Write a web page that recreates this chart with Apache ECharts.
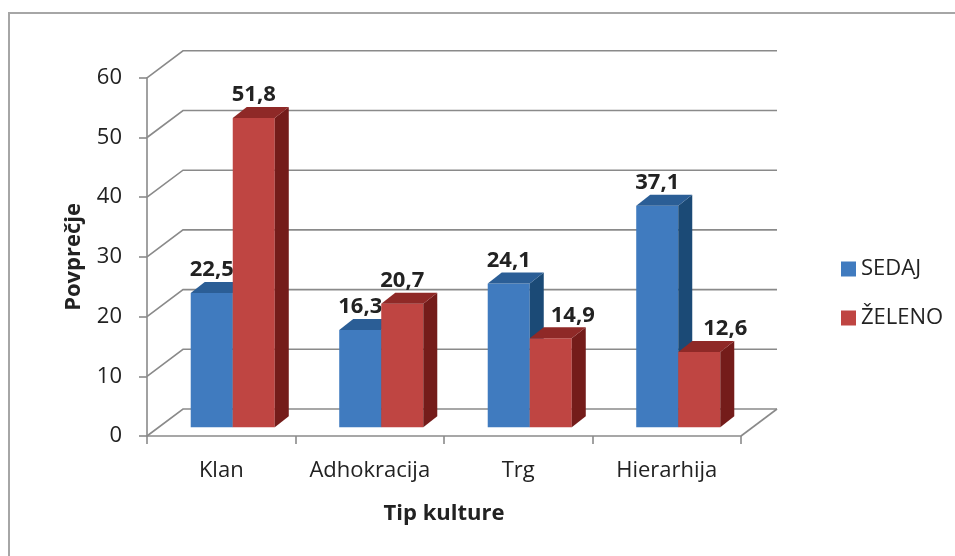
<!DOCTYPE html>
<html>
<head>
<meta charset="utf-8">
<script src="https://cdn.jsdelivr.net/npm/echarts@6/dist/echarts.min.js"></script>
<style>
html,body{margin:0;padding:0;background:#fff;}
#chart{width:955px;height:556px;}
</style>
</head>
<body>
<div id="chart"></div>
<script>
const categories = ['Klan', 'Adhokracija', 'Trg', 'Hierarhija'];
const sedaj = [22.5, 16.3, 24.1, 37.1];
const zeleno = [51.8, 20.7, 14.9, 12.6];
const yTicks = [0, 10, 20, 30, 40, 50, 60];
const seriesNames = ['SEDAJ', 'ŽELENO'];

// label placement tweaks (px, style only)
const labelShiftX = [[0, 0, 0, 0], [0, 0, 22, 26]];

const FONT = '"Open Sans", "Noto Sans", sans-serif';
const WALL_DX = 36, WALL_DY = 27;      // back wall depth offset
const FRONT_DX = 11.5, FRONT_DY = 8.7; // bar front face offset
const BAR_DX = 14, BAR_DY = 11;        // bar depth
const BAR_FRAC = 0.283;
const GRID_COLOR = '#8a8a8a';
const palettes = [
  { front: '#407BBF', side: '#1B4A76', top: '#2B5E96' },
  { front: '#BF4542', side: '#741C1A', top: '#8F2927' }
];

const chart = echarts.init(document.getElementById('chart'), null, { renderer: 'canvas' });

function gridRender(params, api) {
  const cs = params.coordSys;
  const v = api.value(1);
  const y = api.coord([0, v])[1];
  const x0 = cs.x, x1 = cs.x + cs.width;
  const children = [{
    type: 'polyline',
    shape: { points: [[x0, y], [x0 + WALL_DX, y - WALL_DY], [x1 + WALL_DX, y - WALL_DY]] },
    style: { stroke: GRID_COLOR, lineWidth: 1.6, fill: null }
  }];
  if (v === 0) {
    children.push({
      type: 'line',
      shape: { x1: x1, y1: y, x2: x1 + WALL_DX, y2: y - WALL_DY },
      style: { stroke: GRID_COLOR, lineWidth: 1.6 }
    });
  }
  return { type: 'group', children: children };
}

function makeBarRender(s) {
  const pal = palettes[s];
  return function (params, api) {
    const ci = api.value(0), v = api.value(1);
    const top = api.coord([ci, v]);
    const base = api.coord([ci, 0]);
    const band = api.size([1, 0])[0];
    const bw = band * BAR_FRAC;
    const cx = top[0] + FRONT_DX;
    const x0 = cx - bw + s * bw, x1 = x0 + bw;
    const yt = top[1] - FRONT_DY, yb = base[1] - FRONT_DY;
    return {
      type: 'group',
      children: [
        { type: 'polygon', shape: { points: [[x0, yt], [x1, yt], [x1, yb], [x0, yb]] }, style: { fill: pal.front } },
        { type: 'polygon', shape: { points: [[x1, yt], [x1 + BAR_DX, yt - BAR_DY], [x1 + BAR_DX, yb - BAR_DY], [x1, yb]] }, style: { fill: pal.side } },
        { type: 'polygon', shape: { points: [[x0, yt], [x0 + BAR_DX, yt - BAR_DY], [x1 + BAR_DX, yt - BAR_DY], [x1, yt]] }, style: { fill: pal.top } },
        { type: 'text', z2: 10, style: {
            text: String(v).replace('.', ','), x: (x0 + x1) / 2 + labelShiftX[s][ci], y: yt - BAR_DY - 1,
            align: 'center', verticalAlign: 'bottom',
            font: 'bold 22px ' + FONT, fill: '#222'
          } }
      ]
    };
  };
}

const option = {
  animation: false,
  backgroundColor: '#fff',
  graphic: [{
    type: 'rect', z: -10,
    shape: { x: 9, y: 13, width: 1000, height: 1000 },
    style: { fill: null, stroke: '#a6a6a6', lineWidth: 2 }
  }],
  grid: { left: 147, right: 214, top: 77.8, height: 358.2 },
  legend: {
    orient: 'vertical', left: 836, top: 253, itemWidth: 15, itemHeight: 15, itemGap: 27,
    icon: 'rect',
    textStyle: { fontFamily: FONT, fontSize: 22, color: '#222' },
    data: seriesNames.map((n, i) => ({ name: n, itemStyle: { color: palettes[i].front } }))
  },
  xAxis: {
    type: 'category', data: categories,
    axisLine: { lineStyle: { color: GRID_COLOR, width: 1.6 } },
    axisTick: { show: true, interval: 0, length: 8, lineStyle: { color: GRID_COLOR, width: 1.6 } },
    axisLabel: { fontFamily: FONT, fontSize: 22, color: '#222', margin: 24, interval: 0 },
    name: 'Tip kulture', nameLocation: 'middle', nameGap: 67,
    nameTextStyle: { fontFamily: FONT, fontSize: 22, fontWeight: 'bold', color: '#222' }
  },
  yAxis: {
    type: 'value', min: 0, max: 60, interval: 10,
    axisLine: { show: true, lineStyle: { color: GRID_COLOR, width: 1.6 } },
    axisTick: { show: true, length: 8, lineStyle: { color: GRID_COLOR, width: 1.6 } },
    splitLine: { show: false },
    axisLabel: { fontFamily: FONT, fontSize: 22, color: '#222', margin: 25 },
    name: 'Povprečje', nameLocation: 'middle', nameGap: 62, nameRotate: 90,
    nameTextStyle: { fontFamily: FONT, fontSize: 22, fontWeight: 'bold', color: '#222' }
  },
  series: [
    { type: 'custom', name: 'grid3d', clip: false, z: 1, silent: true,
      renderItem: gridRender, encode: { x: 0, y: 1 },
      data: yTicks.map(v => [0, v]) },
    { type: 'custom', name: seriesNames[0], clip: false, z: 3,
      itemStyle: { color: palettes[0].front },
      renderItem: makeBarRender(0), encode: { x: 0, y: 1 },
      data: sedaj.map((v, i) => [i, v]) },
    { type: 'custom', name: seriesNames[1], clip: false, z: 4,
      itemStyle: { color: palettes[1].front },
      renderItem: makeBarRender(1), encode: { x: 0, y: 1 },
      data: zeleno.map((v, i) => [i, v]) }
  ]
};
chart.setOption(option);
</script>
</body>
</html>
